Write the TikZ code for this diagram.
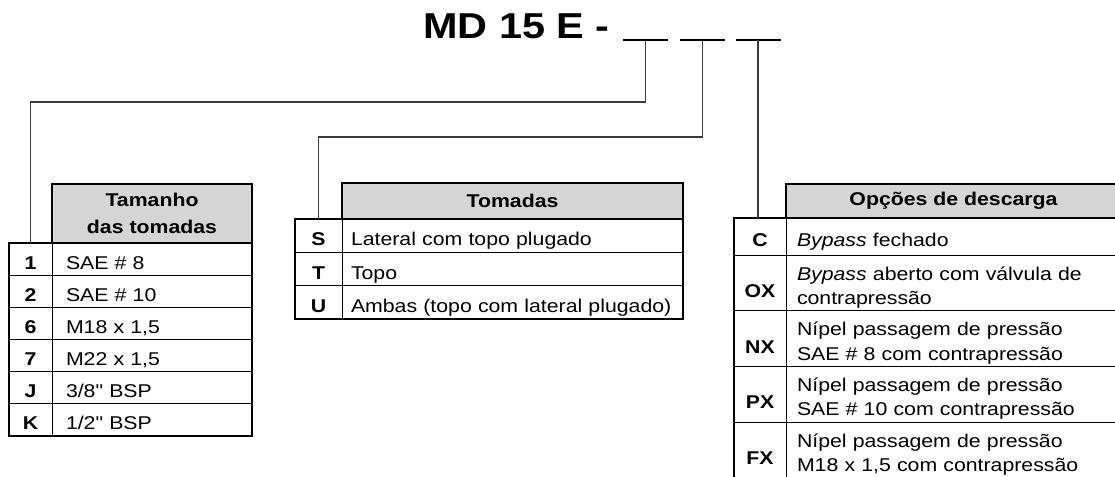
\documentclass[tikz,border=0pt]{standalone}
\usepackage{fontspec}
\setmainfont{Liberation Sans}[FakeStretch=1.15, Ligatures=TeXOff]
\usepackage{tikz}
\usetikzlibrary{positioning,calc}
\usepackage{xcolor}
\definecolor{headgray}{HTML}{D5D5D5}
\definecolor{leadgray}{HTML}{3C3C3C}
\newcommand{\cellfont}{\fontsize{18.5}{24.5}\selectfont}

\begin{document}
\begin{tikzpicture}[
    x=1pt, y=-1pt,
    hcell/.style    = {rectangle, draw, line width=2.4pt, fill=headgray,
                       inner sep=0pt, outer sep=0pt, align=center,
                       font=\cellfont\bfseries},
    kcell/.style    = {rectangle, draw, line width=0.9pt, inner sep=0pt,
                       outer sep=0pt, font=\cellfont\bfseries,
                       text height=20pt, text depth=0pt},
    kcelltwo/.style = {kcell, text height=29.5pt},
    tcell/.style    = {rectangle, draw, line width=0.9pt, inner ysep=0pt,
                       outer sep=0pt, align=left, font=\cellfont,
                       text height=20pt, text depth=0pt},
    tcelltwo/.style = {tcell, text height=20pt, text depth=25.7pt},
    frame/.style    = {draw, line width=2.4pt},
    conn/.style     = {draw=leadgray, line width=1.2pt},
    blank/.style    = {draw=black, line width=1.4pt},
]
\useasboundingbox (0,0) rectangle (1115,476);
\clip (0,0) rectangle (1115,476);

%% ── Model code: title and three blanks ─────────────────────────────────────
\node[font=\fontsize{36}{40}\selectfont\bfseries, anchor=base east,
      inner sep=0pt] (title) at (610,39) {MD 15 E -};
\coordinate (b1) at (645.5,40);
\coordinate (b2) at (702.5,40);
\coordinate (b3) at (758.0,40);
\draw[blank] ($(b1)+(-22.5,0)$) -- ($(b1)+(22.5,0)$);
\draw[blank] ($(b2)+(-22.5,0)$) -- ($(b2)+(22.5,0)$);
\draw[blank] ($(b3)+(-22.5,0)$) -- ($(b3)+(22.5,0)$);

%% ── Table 1: port size, x = 9 .. 252 ──────────────────────────────────────
\node[hcell, minimum width=200pt, minimum height=59pt] (tam) at (152,213.5)
    {Tamanho\\[2pt]das tomadas};
\node[kcell, minimum width=43pt, minimum height=32.2pt] (c1) at (30.5,259.1) {1};
\node[kcell, minimum width=43pt, minimum height=32.2pt] (c2) at (30.5,291.3) {2};
\node[kcell, minimum width=43pt, minimum height=32.2pt] (c6) at (30.5,323.4) {6};
\node[kcell, minimum width=43pt, minimum height=32.2pt] (c7) at (30.5,355.6) {7};
\node[kcell, minimum width=43pt, minimum height=32.2pt] (cJ) at (30.5,387.8) {J};
\node[kcell, minimum width=43pt, minimum height=32.2pt] (cK) at (30.5,419.9) {K};
\node[tcell, text width=172pt, inner xsep=14pt, minimum height=32.2pt] (d1) at (152,259.1) {SAE \# 8};
\node[tcell, text width=172pt, inner xsep=14pt, minimum height=32.2pt] (d2) at (152,291.3) {SAE \# 10};
\node[tcell, text width=172pt, inner xsep=14pt, minimum height=32.2pt] (d6) at (152,323.4) {M18 x 1,5};
\node[tcell, text width=172pt, inner xsep=14pt, minimum height=32.2pt] (d7) at (152,355.6) {M22 x 1,5};
\node[tcell, text width=172pt, inner xsep=14pt, minimum height=32.2pt] (dJ) at (152,387.8) {3/8" BSP};
\node[tcell, text width=172pt, inner xsep=14pt, minimum height=32.2pt] (dK) at (152,419.9) {1/2" BSP};
\draw[frame] (c1.north west) rectangle (dK.south east);

%% ── Table 2: ports, x = 295 .. 683 ────────────────────────────────────────
\node[hcell, minimum width=341pt, minimum height=36pt] (tom) at (512.5,201) {Tomadas};
\node[kcell, minimum width=47pt, minimum height=33.3pt] (cS) at (318.5,235.7) {S};
\node[kcell, minimum width=47pt, minimum height=33.3pt] (cT) at (318.5,269.0) {T};
\node[kcell, minimum width=47pt, minimum height=33.3pt] (cU) at (318.5,302.3) {U};
\node[tcell, text width=323pt, inner xsep=9pt, minimum height=33.3pt] (dS) at (512.5,235.7) {Lateral com topo plugado};
\node[tcell, text width=323pt, inner xsep=9pt, minimum height=33.3pt] (dT) at (512.5,269.0) {Topo};
\node[tcell, text width=323pt, inner xsep=9pt, minimum height=33.3pt] (dU) at (512.5,302.3) {Ambas (topo com lateral plugado)};
\draw[frame] (cS.north west) rectangle (dU.south east);

%% ── Table 3: discharge options, x = 734 .. (cut at right) ─────────────────
\node[hcell, minimum width=335pt, minimum height=34pt] (desc) at (953.5,201) {Opções de descarga};
\node[kcell,    minimum width=52pt, minimum height=37pt]   (cC)  at (760,236.5)  {C};
\node[kcelltwo, minimum width=52pt, minimum height=55.7pt] (cOX) at (760,282.85) {OX};
\node[kcelltwo, minimum width=52pt, minimum height=55.7pt] (cNX) at (760,338.5)  {NX};
\node[kcelltwo, minimum width=52pt, minimum height=55.7pt] (cPX) at (760,394.15) {PX};
\node[kcelltwo, minimum width=52pt, minimum height=55.7pt] (cFX) at (760,449.85) {FX};
\node[tcell,    text width=313pt, inner xsep=11pt, minimum height=37pt]   (dC)  at (953.5,236.5)
    {\textit{Bypass} fechado};
\node[tcelltwo, text width=313pt, inner xsep=11pt, minimum height=55.7pt] (dOX) at (953.5,282.85)
    {\textit{Bypass} aberto com válvula de\\contrapressão};
\node[tcelltwo, text width=313pt, inner xsep=11pt, minimum height=55.7pt] (dNX) at (953.5,338.5)
    {Nípel passagem de pressão\\SAE \# 8 com contrapressão};
\node[tcelltwo, text width=313pt, inner xsep=11pt, minimum height=55.7pt] (dPX) at (953.5,394.15)
    {Nípel passagem de pressão\\SAE \# 10 com contrapressão};
\node[tcelltwo, text width=313pt, inner xsep=11pt, minimum height=55.7pt] (dFX) at (953.5,449.85)
    {Nípel passagem de pressão\\M18 x 1,5 com contrapressão};
\draw[frame] (cC.north west) rectangle (dFX.south east);

%% ── Leader lines from the blanks to the tables ─────────────────────────────
\draw[conn] (b1) -- ++(0,62) -| (c1.north);
\draw[conn] (b2) -- ++(0,97) -| (cS.north);
\draw[conn] (b3) -- (b3 |- cC.north);

\end{tikzpicture}
\end{document}
